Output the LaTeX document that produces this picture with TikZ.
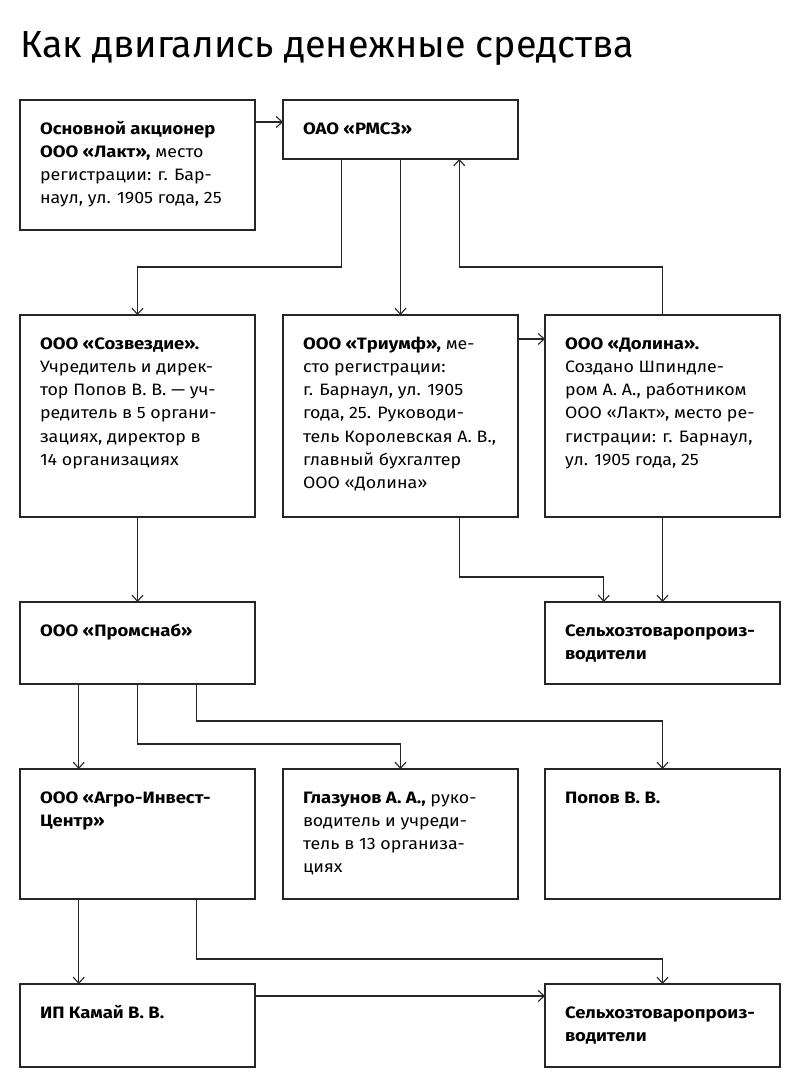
\documentclass[tikz,border=0pt]{standalone}
\usepackage{fontspec}
\setmainfont{Fira Sans}[FakeStretch=1.08, BoldFeatures={FakeStretch=1.12}]
\newfontfamily\titlefont{Fira Sans}
\usetikzlibrary{arrows.meta,calc}
\newcommand{\boxtxt}[3]{\parbox[c][#2][t]{#1}{\raggedright\leftskip=20pt\parindent=0pt\fontsize{16.5}{23.3}\selectfont\rule{0pt}{34pt}#3}}
\tikzset{
  frame/.style={draw=black!85, line width=1.2pt, inner sep=0pt, outer sep=0pt, anchor=north west},
  arr/.style={draw=black!85, line width=1.1pt, -{Straight Barb[length=6pt,width=11pt]}}
}
\begin{document}
\begin{tikzpicture}[x=1pt,y=-1pt]
\useasboundingbox (0,0) rectangle (800,1092);
\fill[white] (0,0) rectangle (800,1092);
\node[anchor=base west, inner sep=0pt, font=\titlefont\fontsize{37.7}{42}\selectfont] (title) at (20,57) {Как двигались денежные средства};

\node[frame] (lakt) at (20,100) {\boxtxt{235pt}{130pt}{\textbf{Основной акционер}\\\textbf{ООО «Лакт»,} место\\регистрации: г. Бар-\\наул, ул. 1905 года, 25}};
\node[frame] (rmsz) at (283,100) {\boxtxt{235pt}{59pt}{\textbf{ОАО «РМСЗ»}}};

\node[frame] (sozv) at (20,315) {\boxtxt{235pt}{202pt}{\textbf{ООО «Созвездие».}\\Учредитель и дирек-\\тор Попов В. В. — уч-\\редитель в 5 органи-\\зациях, директор в\\14 организациях}};
\node[frame] (triumf) at (283,315) {\boxtxt{235pt}{202pt}{\textbf{ООО «Триумф»,} ме-\\сто регистрации:\\г. Барнаул, ул. 1905\\года, 25. Руководи-\\тель Королевская А. В.,\\главный бухгалтер\\ООО «Долина»}};
\node[frame] (dolina) at (545,315) {\boxtxt{235pt}{202pt}{\textbf{ООО «Долина».}\\Создано Шпиндле-\\ром А. А., работником\\ООО «Лакт», место ре-\\гистрации: г. Барнаул,\\ул. 1905 года, 25}};

\node[frame] (prom) at (20,602) {\boxtxt{235pt}{82pt}{\textbf{ООО «Промснаб»}}};
\node[frame] (selk1) at (545,602) {\boxtxt{235pt}{82pt}{\textbf{Сельхозтоваропроиз-}\\\textbf{водители}}};

\node[frame] (agro) at (20,769) {\boxtxt{235pt}{130pt}{\textbf{ООО «Агро-Инвест-}\\\textbf{Центр»}}};
\node[frame] (glaz) at (283,769) {\boxtxt{235pt}{130pt}{\textbf{Глазунов А. А.,} руко-\\водитель и учреди-\\тель в 13 организа-\\циях}};
\node[frame] (popov) at (545,769) {\boxtxt{235pt}{130pt}{\textbf{Попов В. В.}}};

\node[frame] (ip) at (20,984) {\boxtxt{235pt}{83pt}{\textbf{ИП Камай В. В.}}};
\node[frame] (selk2) at (545,984) {\boxtxt{235pt}{83pt}{\textbf{Сельхозтоваропроиз-}\\\textbf{водители}}};

\coordinate (h1) at (0,267);
\coordinate (h2) at (0,577);
\coordinate (h3) at (0,721);
\coordinate (h4) at (0,744);
\coordinate (h5) at (0,959);

\draw[arr] ($(lakt.north east)+(0,22)$) coordinate (s0) -- (s0 -| rmsz.west);
\draw[arr] ($(rmsz.south west)!0.25!(rmsz.south east)$) coordinate (s1) -- (s1 |- h1) -| (sozv.north);
\draw[arr] (rmsz.south) -- (triumf.north);
\draw[arr] (dolina.north) -- (dolina.north |- h1) -| ($(rmsz.south west)!0.75!(rmsz.south east)$);
\draw[arr] ($(triumf.north east)+(0,24)$) coordinate (s2) -- (s2 -| dolina.west);
\draw[arr] (sozv.south) -- (prom.north);
\draw[arr] ($(triumf.south west)!0.75!(triumf.south east)$) coordinate (s3) -- (s3 |- h2) -| ($(selk1.north west)!0.25!(selk1.north east)$);
\draw[arr] (dolina.south) -- (selk1.north);
\draw[arr] ($(prom.south west)!0.25!(prom.south east)$) coordinate (s4) -- (s4 |- agro.north);
\draw[arr] (prom.south) -- (prom.south |- h4) -| (glaz.north);
\draw[arr] ($(prom.south west)!0.75!(prom.south east)$) coordinate (s5) -- (s5 |- h3) -| (popov.north);
\draw[arr] ($(agro.south west)!0.25!(agro.south east)$) coordinate (s6) -- (s6 |- ip.north);
\draw[arr] ($(agro.south west)!0.75!(agro.south east)$) coordinate (s7) -- (s7 |- h5) -| (selk2.north);
\draw[arr] ($(ip.north east)+(0,12)$) coordinate (s8) -- (s8 -| selk2.west);
\end{tikzpicture}
\end{document}
